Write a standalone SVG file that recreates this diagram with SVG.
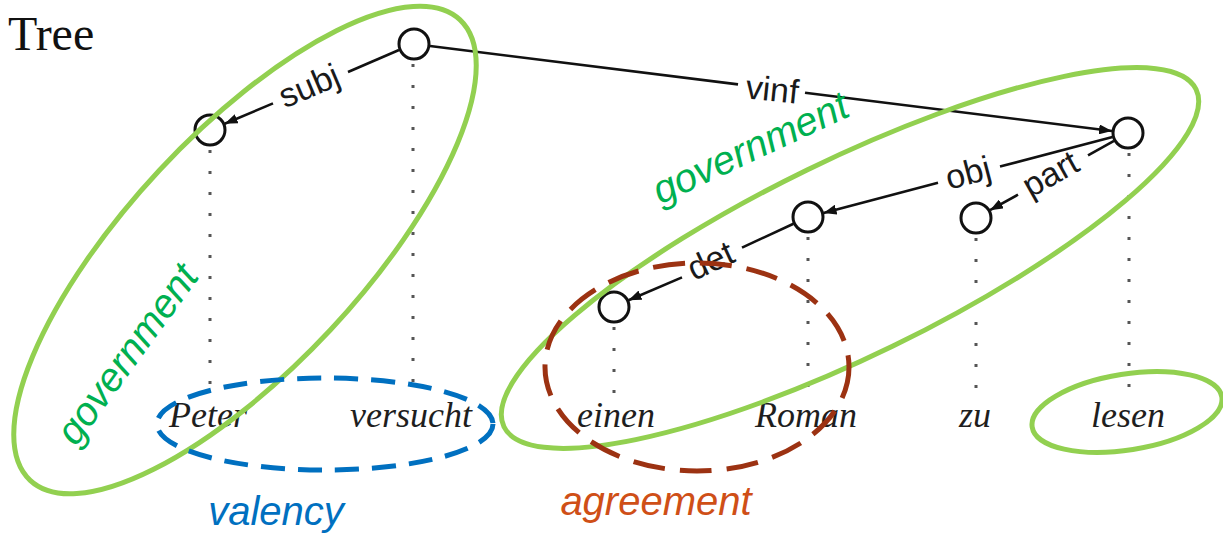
<svg xmlns="http://www.w3.org/2000/svg" width="1223" height="533" viewBox="0 0 1223 533">
  <style>
    .node { fill: #ffffff; stroke: #111111; stroke-width: 3; }
    .edge { fill: none; stroke: #111111; stroke-width: 2.6; }
    .dots { fill: none; stroke: #555555; stroke-width: 3; stroke-dasharray: 3 18; }
    .elabel { font-family: "Liberation Sans", Arial, sans-serif; font-size: 34px; fill: #1a1a1a; text-anchor: middle; }
    .word { font-family: "Liberation Serif", "Times New Roman", serif; font-style: italic; font-size: 36px; fill: #1e1e1e; text-anchor: middle; }
    .ring { fill: none; stroke: #92d050; stroke-width: 5; }
    .note { font-family: "Liberation Sans", Arial, sans-serif; font-style: italic; font-size: 40px; text-anchor: middle; }
  </style>
  <defs>
    <marker id="arrow" markerUnits="userSpaceOnUse" markerWidth="13" markerHeight="10" refX="13" refY="5" orient="auto">
      <path d="M0,0 L13,5 L0,10 z" fill="#111111"/>
    </marker>
  </defs>

  <rect width="1223" height="533" fill="#ffffff"/>

  <text x="8" y="50" font-family="Liberation Serif, 'Times New Roman', serif" font-size="48" fill="#111111">Tree</text>

  <!-- projection lines from nodes down to words -->
  <g id="projections">
    <line class="dots" x1="210" y1="150" x2="210" y2="398"/>
    <line class="dots" x1="413" y1="64" x2="413" y2="398"/>
    <line class="dots" x1="614" y1="327" x2="614" y2="398"/>
    <line class="dots" x1="808" y1="237" x2="808" y2="398"/>
    <line class="dots" x1="976" y1="238" x2="976" y2="398"/>
    <line class="dots" x1="1129" y1="153" x2="1129" y2="398"/>
  </g>

  <!-- dependency edges -->
  <g id="connectors">
    <line class="edge" x1="399" y1="50" x2="348" y2="72"/>
    <line class="edge" x1="273" y1="103.4" x2="224.7" y2="123.8" marker-end="url(#arrow)"/>

    <line class="edge" x1="430" y1="46" x2="738" y2="84.4"/>
    <line class="edge" x1="805" y1="92.8" x2="1112" y2="131" marker-end="url(#arrow)"/>

    <line class="edge" x1="1112.5" y1="137.1" x2="1000" y2="166.6"/>
    <line class="edge" x1="938" y1="182.7" x2="823.5" y2="212.9" marker-end="url(#arrow)"/>

    <line class="edge" x1="1114" y1="140.8" x2="1088" y2="155.4"/>
    <line class="edge" x1="1018" y1="194.7" x2="990" y2="210.2" marker-end="url(#arrow)"/>

    <line class="edge" x1="793.5" y1="223.7" x2="742" y2="247.6"/>
    <line class="edge" x1="682" y1="277.4" x2="628.5" y2="300.3" marker-end="url(#arrow)"/>

    <text class="elabel" transform="translate(313.6,96.4) rotate(-22.9)">subj</text>
    <text class="elabel" transform="translate(771,101) rotate(6)">vinf</text>
    <text class="elabel" transform="translate(971,184) rotate(-14.7)">obj</text>
    <text class="elabel" transform="translate(1056,184) rotate(-29.2)">part</text>
    <text class="elabel" transform="translate(715.4,271) rotate(-24.9)">det</text>
  </g>

  <g id="node-versucht"><circle class="node" cx="414" cy="44" r="15"/></g>
  <g id="node-peter"><circle class="node" cx="210" cy="130" r="15"/></g>
  <g id="node-lesen"><circle class="node" cx="1128" cy="133" r="15"/></g>
  <g id="node-roman"><circle class="node" cx="808" cy="217" r="15"/></g>
  <g id="node-zu"><circle class="node" cx="976" cy="218" r="15"/></g>
  <g id="node-einen"><circle class="node" cx="614" cy="307" r="15"/></g>

  <g id="words">
    <text class="word" x="208" y="427">Peter</text>
    <text class="word" x="411" y="427">versucht</text>
    <text class="word" x="616" y="427">einen</text>
    <text class="word" x="806" y="427">Roman</text>
    <text class="word" x="975" y="427">zu</text>
    <text class="word" x="1128" y="427">lesen</text>
  </g>

  <!-- annotation rings -->
  <g id="ring-government-left">
    <ellipse class="ring" cx="245" cy="250" rx="315" ry="117" transform="rotate(-47 245 250)"/>
    <text class="note" fill="#00b050" font-size="42" transform="translate(138,362) rotate(-54)">government</text>
  </g>
  <g id="ring-government-right">
    <ellipse class="ring" cx="850" cy="258" rx="385" ry="98" transform="rotate(-26 850 258)"/>
    <text class="note" fill="#00b050" font-size="42" transform="translate(756,160) rotate(-25)">government</text>
  </g>
  <g id="ring-lesen">
    <ellipse class="ring" cx="1127" cy="412" rx="96" ry="38" transform="rotate(-9 1127 412)"/>
  </g>
  <g id="ring-valency">
    <ellipse cx="325" cy="424" rx="168" ry="46" fill="none" stroke="#0070c0" stroke-width="5" stroke-dasharray="24 13"/>
    <text class="note" fill="#0070c0" font-size="36" x="276" y="525">valency</text>
  </g>
  <g id="ring-agreement">
    <ellipse cx="697" cy="367" rx="152" ry="104" fill="none" stroke="#9c3212" stroke-width="5" stroke-dasharray="32 15"/>
    <text class="note" fill="#cf4f17" font-size="36" x="656" y="515">agreement</text>
  </g>
</svg>
